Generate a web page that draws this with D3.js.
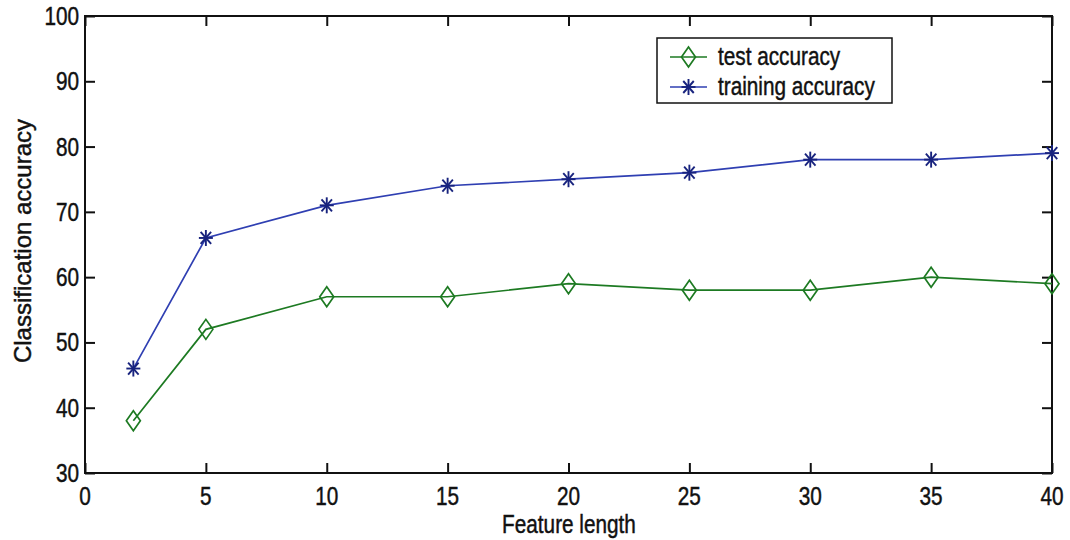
<!DOCTYPE html>
<html>
<head>
<meta charset="utf-8">
<script src="https://cdn.jsdelivr.net/npm/d3@7"></script>
<style>
  html, body { margin: 0; padding: 0; background: #fff; }
  svg { display: block; }
  text { font-family: "Liberation Sans", Arial, Helvetica, sans-serif; fill: #111; stroke: #111; stroke-width: 0.45px; }
</style>
</head>
<body>
<svg id="chart" width="1070" height="540"></svg>
<script>
// Feature lengths tested and the resulting accuracies (%)
const featureLength = [2, 5, 10, 15, 20, 25, 30, 35, 40];
const testAccuracy = [38, 52, 57, 57, 59, 58, 58, 60, 59];
const trainingAccuracy = [46, 66, 71, 74, 75, 76, 78, 78, 79];
const xTicks = [0, 5, 10, 15, 20, 25, 30, 35, 40];
const yTicks = [30, 40, 50, 60, 70, 80, 90, 100];
const seriesNames = ["test accuracy", "training accuracy"];

const svg = d3.select("#chart");
const L = 85, R = 1052, T = 16, B = 473;
const x = d3.scaleLinear().domain([0, 40]).range([L, R]);
const y = d3.scaleLinear().domain([30, 100]).range([B, T]);

const green = "#1d7a22";
const blue = "#2f3fb2";
const navy = "#18237e";
const squeeze = 0.83; // horizontal condensing of the label type

// horizontally condensed text helper
function label(g, px, py, str, size, anchor) {
  return g.append("g")
    .attr("transform", `translate(${px},${py}) scale(${squeeze},1)`)
    .append("text")
    .attr("text-anchor", anchor)
    .attr("font-size", size)
    .text(str);
}

// axes with inward ticks on all four sides
const tickLen = 10;
svg.append("g").attr("transform", `translate(0,${B})`)
  .call(d3.axisBottom(x).tickValues(xTicks).tickSizeInner(-tickLen).tickSizeOuter(0).tickFormat(""))
  .call(g => g.select(".domain").remove());
svg.append("g").attr("transform", `translate(0,${T})`)
  .call(d3.axisTop(x).tickValues(xTicks).tickSizeInner(-tickLen).tickSizeOuter(0).tickFormat(""))
  .call(g => g.select(".domain").remove());
svg.append("g").attr("transform", `translate(${L},0)`)
  .call(d3.axisLeft(y).tickValues(yTicks).tickSizeInner(-tickLen).tickSizeOuter(0).tickFormat(""))
  .call(g => g.select(".domain").remove());
svg.append("g").attr("transform", `translate(${R},0)`)
  .call(d3.axisRight(y).tickValues(yTicks).tickSizeInner(-tickLen).tickSizeOuter(0).tickFormat(""))
  .call(g => g.select(".domain").remove());
svg.selectAll(".tick line").attr("stroke", "#111").attr("stroke-width", 2);

svg.append("rect")
  .attr("x", L).attr("y", T).attr("width", R - L).attr("height", B - T)
  .attr("fill", "none").attr("stroke", "#111").attr("stroke-width", 2);

// tick labels
const labels = svg.append("g");
xTicks.forEach(v => label(labels, x(v), 505, String(v), 25, "middle"));
yTicks.forEach(v => label(labels, 79, y(v) + 9, String(v), 25, "end"));

// axis titles
label(svg, (L + R) / 2 + 0.5, 533, "Feature length", 25, "middle");
svg.append("text")
  .attr("transform", `translate(31,241) rotate(-90)`)
  .attr("text-anchor", "middle")
  .attr("font-size", 24)
  .text("Classification accuracy");

// series
const line = d3.line().x(d => x(d[0])).y(d => y(d[1]));
const testPts = featureLength.map((f, i) => [f, testAccuracy[i]]);
const trainPts = featureLength.map((f, i) => [f, trainingAccuracy[i]]);

svg.append("path").datum(trainPts).attr("d", line)
  .attr("fill", "none").attr("stroke", blue).attr("stroke-width", 1.7);
svg.append("path").datum(testPts).attr("d", line)
  .attr("fill", "none").attr("stroke", green).attr("stroke-width", 1.7);

function diamond(g, cx, cy) {
  const w = 7, h = 10;
  g.append("path")
    .attr("d", `M${cx},${cy - h}L${cx + w},${cy}L${cx},${cy + h}L${cx - w},${cy}Z`)
    .attr("fill", "none").attr("stroke", green).attr("stroke-width", 1.7);
}
function star(g, cx, cy) {
  const w = 7, h = 8;
  const segs = [[0, -h, 0, h], [-w, 0, w, 0], [-w * 0.75, -h * 0.75, w * 0.75, h * 0.75], [-w * 0.75, h * 0.75, w * 0.75, -h * 0.75]];
  segs.forEach(s => g.append("line")
    .attr("x1", cx + s[0]).attr("y1", cy + s[1]).attr("x2", cx + s[2]).attr("y2", cy + s[3])
    .attr("stroke", navy).attr("stroke-width", 1.9));
}

const markers = svg.append("g");
trainPts.forEach(p => star(markers, x(p[0]), y(p[1])));
testPts.forEach(p => diamond(markers, x(p[0]), y(p[1])));

// legend
const lg = svg.append("g");
lg.append("rect").attr("x", 657).attr("y", 38).attr("width", 235).attr("height", 65)
  .attr("fill", "#fff").attr("stroke", "#111").attr("stroke-width", 1.5);
const rows = [57, 87];
lg.append("line").attr("x1", 670).attr("x2", 707).attr("y1", rows[0]).attr("y2", rows[0])
  .attr("stroke", green).attr("stroke-width", 1.7);
diamond(lg, 688.5, rows[0]);
lg.append("line").attr("x1", 670).attr("x2", 707).attr("y1", rows[1]).attr("y2", rows[1])
  .attr("stroke", blue).attr("stroke-width", 1.7);
star(lg, 688.5, rows[1]);
seriesNames.forEach((n, i) => label(lg, 718, rows[i] + 8, n, 25, "start"));
</script>
</body>
</html>
